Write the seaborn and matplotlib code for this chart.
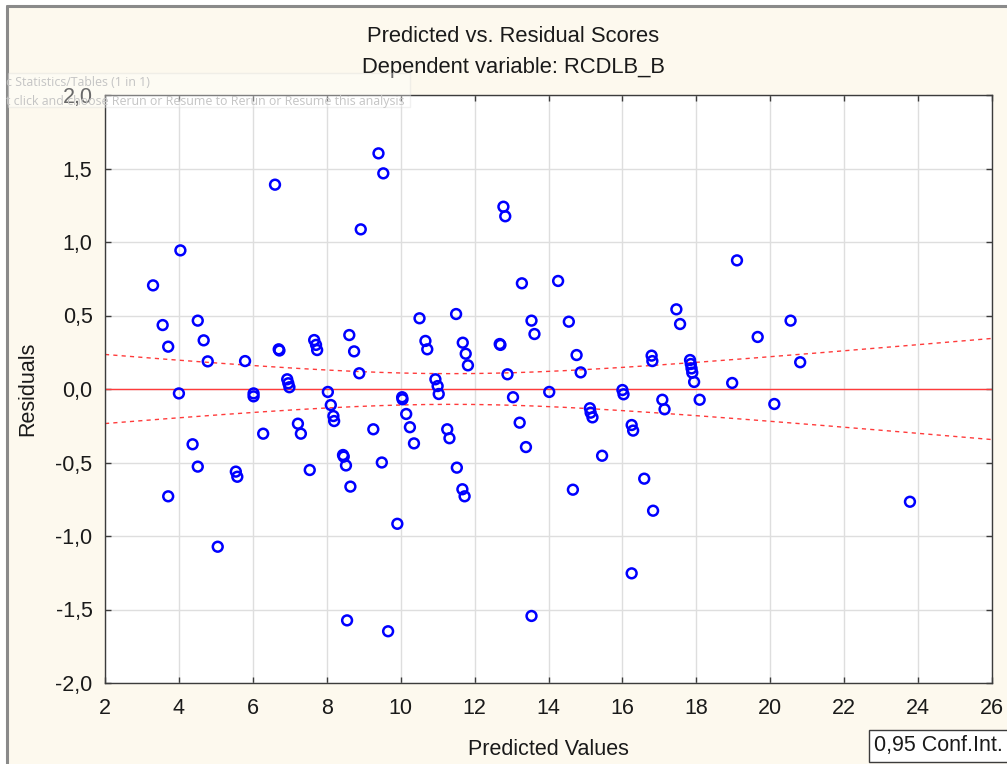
import numpy as np
import pandas as pd
import matplotlib
matplotlib.use("Agg")
import matplotlib.pyplot as plt
import seaborn as sns
from matplotlib.patches import Rectangle
from matplotlib.lines import Line2D

# ---- data ----
predicted = [3.30, 3.56, 3.71, 3.71, 4.00, 4.04, 4.37, 4.51, 4.51, 4.67,
             4.78, 5.05, 5.54, 5.58, 5.79, 6.02, 6.02, 6.28, 6.60, 6.70,
             6.72, 6.93, 6.96, 6.99, 7.22, 7.30, 7.54, 7.66, 7.71, 7.74,
             8.03, 8.11, 8.18, 8.20, 8.44, 8.46, 8.52, 8.55, 8.61, 8.64,
             8.74, 8.88, 8.92, 9.26, 9.40, 9.49, 9.53, 9.66, 9.91, 10.04,
             10.05, 10.15, 10.25, 10.36, 10.51, 10.67, 10.72, 10.94, 11.00, 11.03,
             11.26, 11.32, 11.50, 11.52, 11.67, 11.68, 11.73, 11.76, 11.82, 12.68,
             12.70, 12.78, 12.83, 12.89, 13.04, 13.22, 13.28, 13.39, 13.54, 13.54,
             13.62, 14.02, 14.26, 14.55, 14.66, 14.76, 14.87, 15.12, 15.14, 15.19,
             15.45, 16.00, 16.03, 16.25, 16.29, 16.25, 16.59, 16.79, 16.81, 16.83,
             17.08, 17.14, 17.46, 17.56, 17.83, 17.85, 17.87, 17.89, 17.94, 18.09,
             18.97, 19.10, 19.66, 20.11, 20.55, 20.81, 23.78]
residuals = [0.705, 0.435, 0.288, -0.730, -0.030, 0.943, -0.376, 0.465, -0.528, 0.331,
             0.188, -1.073, -0.562, -0.597, 0.190, -0.030, -0.050, -0.304, 1.390, 0.270,
             0.262, 0.066, 0.039, 0.012, -0.236, -0.304, -0.551, 0.333, 0.300, 0.265,
             -0.020, -0.109, -0.184, -0.218, -0.449, -0.460, -0.520, -1.574, 0.367, -0.664,
             0.256, 0.107, 1.086, -0.274, 1.603, -0.500, 1.467, -1.648, -0.917, -0.056,
             -0.070, -0.170, -0.260, -0.370, 0.481, 0.327, 0.270, 0.066, 0.020, -0.034,
             -0.274, -0.335, 0.510, -0.535, -0.682, 0.315, -0.730, 0.240, 0.161, 0.306,
             0.300, 1.240, 1.175, 0.100, -0.056, -0.229, 0.719, -0.395, 0.465, -1.544,
             0.374, -0.020, 0.735, 0.458, -0.685, 0.231, 0.113, -0.131, -0.161, -0.193,
             -0.454, -0.007, -0.036, -0.245, -0.283, -1.254, -0.610, 0.227, 0.190, -0.828,
             -0.073, -0.138, 0.542, 0.442, 0.197, 0.170, 0.140, 0.111, 0.048, -0.073,
             0.041, 0.875, 0.354, -0.102, 0.465, 0.182, -0.767]

x_ticks = [2, 4, 6, 8, 10, 12, 14, 16, 18, 20, 22, 24, 26]
y_ticks = [-2.0, -1.5, -1.0, -0.5, 0.0, 0.5, 1.0, 1.5, 2.0]
x_labels = [str(v) for v in x_ticks]
y_labels = [f"{v:.1f}".replace(".", ",") for v in y_ticks]

title_lines = ["Predicted vs. Residual Scores", "Dependent variable: RCDLB_B"]
x_title = "Predicted Values"
y_title = "Residuals"
ci_label = "0,95 Conf.Int."
tooltip_lines = ["c Statistics/Tables (1 in 1)",
                 "t click and choose Rerun or Resume to Rerun or Resume this analysis"]
conf_level_t = 1.981  # t(0.975, n-2)

df = pd.DataFrame({"Predicted": predicted, "Residual": residuals})

# ---- style ----
sns.set_theme(style="white")
plt.rcParams["font.family"] = ["Liberation Sans", "DejaVu Sans"]

W, H = 1007, 764
fig = plt.figure(figsize=(W / 100, H / 100), dpi=100)
fig.patch.set_facecolor("#FDF9EE")

# window frame (white margin + gray border)
fig.patches.append(Rectangle((0, 0), 6 / W, 1, transform=fig.transFigure,
                             facecolor="white", edgecolor="none", zorder=0))
fig.patches.append(Rectangle((0, 1 - 5 / H), 1, 5 / H, transform=fig.transFigure,
                             facecolor="white", edgecolor="none", zorder=0))
fig.lines.append(Line2D([7 / W, 7 / W], [0, 1 - 6 / H], transform=fig.transFigure,
                        color="#8a8a8a", lw=2.2))
fig.lines.append(Line2D([7 / W, 1], [1 - 6 / H, 1 - 6 / H], transform=fig.transFigure,
                        color="#8a8a8a", lw=2.2))

ax = fig.add_axes([105 / W, 1 - 683 / H, (992 - 105) / W, (683 - 95) / H])
ax.set_facecolor("white")

# confidence band for the zero line (from the data)
n = len(df)
xbar = df["Predicted"].mean()
sxx = ((df["Predicted"] - xbar) ** 2).sum()
s = np.sqrt((df["Residual"] ** 2).sum() / (n - 2))
xs = np.linspace(2, 26, 200)
half = conf_level_t * s * np.sqrt(1 / n + (xs - xbar) ** 2 / sxx)

ax.axhline(0, color="#ff3b3b", lw=1.0, zorder=2)
sns.lineplot(x=xs, y=half, ax=ax, color="#ff3b3b", lw=1.0, linestyle=(0, (3, 3)), zorder=2)
sns.lineplot(x=xs, y=-half, ax=ax, color="#ff3b3b", lw=1.0, linestyle=(0, (3, 3)), zorder=2)

sns.scatterplot(data=df, x="Predicted", y="Residual", ax=ax, marker="o",
                facecolor="none", edgecolor="#0000ff", linewidth=1.8, s=50, zorder=3)

ax.set_xlim(2, 26)
ax.set_ylim(-2, 2)
ax.set_xticks(x_ticks)
ax.set_xticklabels(x_labels)
ax.set_yticks(y_ticks)
ax.set_yticklabels(y_labels)
ax.grid(True, color="#dedede", lw=1.0)
ax.set_axisbelow(True)
for sp in ax.spines.values():
    sp.set_visible(True)
    sp.set_color("#3c3c3c")
    sp.set_linewidth(1.0)
ax.tick_params(axis="both", which="both", direction="in", length=4, width=1,
               color="#3c3c3c", labelsize=15.5, labelcolor="#1a1a1a",
               top=True, right=True, bottom=True, left=True, pad=9)
ax.tick_params(axis="x", pad=11)
ax.set_xlabel(x_title, fontsize=15.5, color="#1a1a1a", labelpad=14)
ax.set_ylabel(y_title, fontsize=15.5, color="#1a1a1a", labelpad=12)

fig.text(513 / W, 1 - 37 / H, title_lines[0], ha="center", va="center",
         fontsize=15.8, color="#1a1a1a")
fig.text(513 / W, 1 - 68 / H, title_lines[1], ha="center", va="center",
         fontsize=15.8, color="#1a1a1a")

fig.text(874 / W, 1 - 746 / H, ci_label, ha="left", va="center", fontsize=15.5,
         color="#1a1a1a",
         bbox=dict(boxstyle="square,pad=0.25", facecolor="white",
                   edgecolor="#3c3c3c", lw=1.0))

# faint tooltip overlay from the screenshot
fig.patches.append(Rectangle((8 / W, 1 - 107 / H), (410 - 8) / W, 34 / H,
                             transform=fig.transFigure, facecolor="white",
                             edgecolor="#d8d8d8", lw=1.0, alpha=0.35, zorder=10))
fig.text(6 / W, 1 - 83 / H, tooltip_lines[0], ha="left", va="center",
         fontsize=8.9, color="#c4c4c4", family=["Open Sans", "DejaVu Sans"], zorder=11)
fig.text(6 / W, 1 - 101 / H, tooltip_lines[1],
         ha="left", va="center", fontsize=8.9, color="#c4c4c4",
         family=["Open Sans", "DejaVu Sans"], zorder=11)

fig.savefig("out.png", dpi=100, facecolor=fig.get_facecolor())
